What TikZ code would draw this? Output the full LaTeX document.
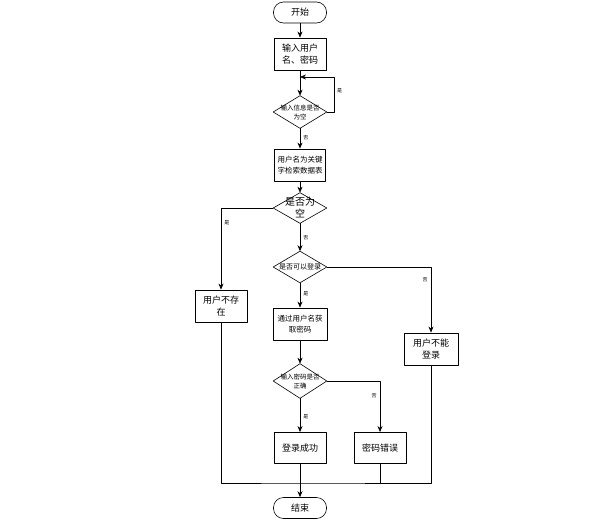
\documentclass[tikz,border=0pt]{standalone}
\usepackage{fontspec}
\setmainfont{Noto Sans CJK SC}
\usetikzlibrary{arrows.meta}
\begin{document}
\begin{tikzpicture}[x=1pt, y=-1pt, >={Stealth[length=6pt,width=5pt]}, line join=round, line width=0.6pt,
		font=\fontsize{9}{12}\selectfont,
		box/.style={draw, line width=0.9pt, minimum width=52pt, minimum height=32pt, align=center, inner sep=0pt},
		term/.style={draw, rounded corners=10pt, minimum width=53pt, minimum height=21pt, inner sep=0pt},
		cond/.style={minimum width=53pt, minimum height=32pt, align=center, inner sep=0pt, font=\fontsize{6.5}{9}\selectfont},
		lab/.style={font=\fontsize{5}{6}\selectfont, inner sep=3pt}]
		\useasboundingbox (0,0) rectangle (596,522);
		
		\node[term] (start) at (300,12.5) {开始};
		\node[box] (in) at (300,54) {输入用户\\名、密码};
		\node[cond] (c1) at (300,112) {输入信息是否\\为空};
		\node[box, font=\fontsize{7.5}{11}\selectfont, minimum width=51pt] (b2) at (300,165) {用户名为关键\\字检索数据表};
		\node[cond, minimum height=30pt, font=\fontsize{10}{12}\selectfont] (c2) at (300,208) {是否为\\空};
		\node[box] (nx) at (221,306) {用户不存\\在};
		\node[cond, minimum height=31pt, font=\fontsize{7}{9}\selectfont] (c3) at (300,267) {是否可以登录};
		\node[box, minimum width=54pt] (nd) at (431,349) {用户不能\\登录};
		\node[box, font=\fontsize{7.5}{11}\selectfont, minimum width=54pt] (pw) at (300,324) {通过用户名获\\取密码};
		\node[cond, minimum height=34pt] (c4) at (300,381) {输入密码是否\\正确};
		\node[box, minimum height=31pt] (ok) at (300,448) {登录成功};
		\node[box, minimum height=31pt] (err) at (380,448) {密码错误};
		\node[term] (end) at (300,508) {结束};
		
		\coordinate (loop) at (300,77);
		\coordinate (j) at (300,483);
		
		% decision diamonds
		\foreach \d in {c1,c2,c3,c4} { \draw (\d.north) -- (\d.east) -- (\d.south) -- (\d.west) -- cycle; }
		
		\draw[->] (start) -- (in);
		\draw[->] (in) -- (c1);
		\draw[->] (c1.east) -- ++(7,0) |- (loop) node[lab, pos=0.3, right] (l1) {是};
		\draw[->] (c1) -- (b2) node[lab, pos=0.45, right] (l2) {否};
		\draw[->] (b2) -- (c2);
		\draw[->] (c2.west) -| (nx.north) node[lab, pos=0.59, right] (l3) {是};
		\draw[->] (c2) -- (c3) node[lab, pos=0.5, right] (l4) {否};
		\draw[->] (c3.east) -| (nd.north) node[lab, pos=0.6, left] (l5) {否};
		\draw[->] (c3) -- (pw) node[lab, pos=0.45, right] (l6) {是};
		\draw[->] (pw) -- (c4);
		\draw[->] (c4.east) -| (err.north) node[lab, pos=0.64, left] (l7) {否};
		\draw[->] (c4) -- (ok) node[lab, pos=0.55, right] (l8) {是};
		
		\draw (nx.south) |- (j) -| (nd.south);
		\draw (err.south) -- (err.south |- j);
		\draw[->] (ok) -- (end);
\end{tikzpicture}
\end{document}
